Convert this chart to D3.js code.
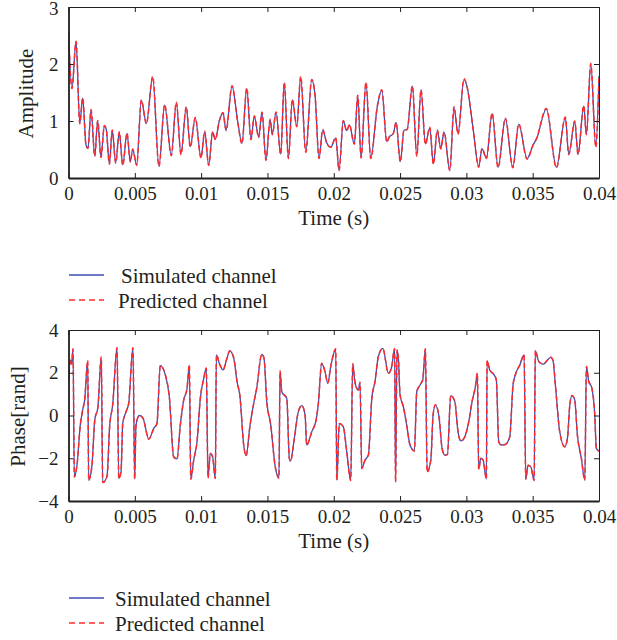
<!DOCTYPE html>
<html>
<head>
<meta charset="utf-8">
<script src="https://cdn.jsdelivr.net/npm/d3@7"></script>
<style>
  body { margin: 0; background: #fff; }
  svg { display: block; font-family: "Liberation Serif", "Times New Roman", serif; }
  .axis text { font-family: "Liberation Serif", "Times New Roman", serif; font-size: 19px; fill: #231f20; }
  .axis line, .axis path { stroke: #231f20; }
</style>
</head>
<body>
<div id="chart"></div>
<script>
var width = 617,
    height = 640;

// x axis (shared)
var xTicks = [0, 0.005, 0.01, 0.015, 0.02, 0.025, 0.03, 0.035, 0.04];
var xTickLabels = ["0", "0.005", "0.01", "0.015", "0.02", "0.025", "0.03", "0.035", "0.04"];

// amplitude panel
var ampTicks = [0, 1, 2, 3];
var ampTickLabels = ["0", "1", "2", "3"];
var ampTime = [0, 0.00026, 0.00057, 0.00085, 0.00107, 0.00132, 0.00147, 0.0017, 0.00198, 0.0022,
  0.00245, 0.0027, 0.00285, 0.00308, 0.0033, 0.00356, 0.00383, 0.00409, 0.00441, 0.00466,
  0.00484, 0.00514, 0.00549, 0.00587, 0.00635, 0.00682, 0.00725, 0.00775, 0.00813, 0.00848,
  0.00888, 0.00918, 0.00956, 0.00999, 0.01027, 0.01057, 0.01087, 0.01107, 0.01137, 0.01165,
  0.01188, 0.01233, 0.01276, 0.01308, 0.01344, 0.01376, 0.01401, 0.01434, 0.01459, 0.01489,
  0.0152, 0.01537, 0.01565, 0.016, 0.01627, 0.01658, 0.01688, 0.01721, 0.01751, 0.01789,
  0.01834, 0.01859, 0.01889, 0.01917, 0.01947, 0.01977, 0.02015, 0.0204, 0.02072, 0.02098,
  0.02118, 0.02155, 0.02181, 0.02206, 0.02243, 0.02279, 0.02329, 0.02362, 0.024, 0.02419,
  0.02449, 0.0247, 0.02502, 0.0253, 0.02553, 0.02593, 0.02626, 0.02658, 0.02691, 0.02724,
  0.02751, 0.02781, 0.02807, 0.02832, 0.02875, 0.02907, 0.02937, 0.02982, 0.03007, 0.0305,
  0.03093, 0.03118, 0.03151, 0.03194, 0.03239, 0.03294, 0.0335, 0.03395, 0.03458, 0.03503,
  0.03528, 0.03603, 0.03679, 0.03746, 0.03772, 0.03817, 0.03842, 0.03885, 0.03905, 0.03938,
  0.03976, 0.04];
var ampSimulated = [2.57, 1.58, 2.39, 0.96, 1.40, 0.58, 0.52, 1.19, 0.39, 1.00,
  0.37, 0.91, 0.85, 0.25, 0.83, 0.27, 0.80, 0.23, 0.78, 0.29,
  0.50, 0.23, 1.36, 0.96, 1.77, 0.21, 1.28, 0.40, 1.32, 0.42,
  1.24, 0.55, 1.05, 0.36, 0.81, 0.23, 0.80, 0.68, 1.00, 1.14,
  0.84, 1.61, 0.99, 0.61, 1.57, 0.68, 1.08, 0.72, 1.15, 0.32,
  1.02, 0.77, 1.15, 0.42, 1.67, 0.35, 1.37, 0.91, 1.77, 0.46,
  1.72, 1.45, 0.35, 0.84, 0.62, 0.54, 0.70, 0.14, 1.00, 0.83,
  0.93, 0.60, 1.44, 0.36, 1.67, 0.35, 1.26, 1.54, 0.64, 0.72,
  0.78, 0.97, 0.29, 0.84, 0.85, 1.61, 0.39, 1.54, 0.60, 0.88,
  0.25, 0.83, 0.52, 0.80, 0.14, 1.24, 0.78, 1.73, 1.58, 0.88,
  0.20, 0.51, 0.35, 1.13, 0.19, 1.04, 0.19, 0.94, 0.34, 0.58,
  0.68, 1.21, 0.19, 1.06, 0.42, 0.99, 0.42, 1.26, 0.77, 2.00,
  0.55, 1.79];
var ampPredicted = [2.58, 1.57, 2.40, 0.95, 1.41, 0.57, 0.52, 1.20, 0.38, 1.01,
  0.36, 0.92, 0.85, 0.24, 0.84, 0.26, 0.81, 0.22, 0.79, 0.28,
  0.51, 0.22, 1.37, 0.95, 1.78, 0.20, 1.29, 0.39, 1.33, 0.41,
  1.25, 0.54, 1.06, 0.35, 0.82, 0.22, 0.81, 0.67, 1.00, 1.15,
  0.83, 1.62, 0.98, 0.60, 1.58, 0.67, 1.09, 0.71, 1.16, 0.31,
  1.03, 0.76, 1.16, 0.41, 1.68, 0.34, 1.38, 0.90, 1.78, 0.45,
  1.73, 1.45, 0.34, 0.85, 0.61, 0.54, 0.71, 0.13, 1.01, 0.82,
  0.94, 0.59, 1.45, 0.35, 1.68, 0.34, 1.27, 1.55, 0.63, 0.72,
  0.78, 0.98, 0.28, 0.85, 0.85, 1.62, 0.38, 1.55, 0.59, 0.89,
  0.24, 0.84, 0.51, 0.81, 0.13, 1.25, 0.77, 1.74, 1.58, 0.87,
  0.19, 0.52, 0.34, 1.14, 0.18, 1.05, 0.18, 0.95, 0.33, 0.58,
  0.69, 1.22, 0.18, 1.07, 0.41, 1.00, 0.41, 1.27, 0.76, 2.01,
  0.54, 1.80];

// phase panel
var phaseTicks = [-4, -2, 0, 2, 4];
var phaseTickLabels = ["\u22124", "\u22122", "0", "2", "4"];
var phaseTime = [0, 0.00015, 0.00023, 0.00034, 0.00044, 0.00064, 0.00089, 0.00107, 0.00122, 0.00145,
  0.00152, 0.00177, 0.00198, 0.00222, 0.00247, 0.00258, 0.0029, 0.00311, 0.00333, 0.00366,
  0.00379, 0.00396, 0.00409, 0.00434, 0.00454, 0.00486, 0.00499, 0.00509, 0.00534, 0.00562,
  0.00605, 0.00643, 0.00667, 0.00692, 0.0073, 0.0076, 0.00793, 0.00818, 0.00843, 0.00869,
  0.00894, 0.00911, 0.00922, 0.00944, 0.00969, 0.00994, 0.0102, 0.01039, 0.01052, 0.01069,
  0.01087, 0.01107, 0.01115, 0.01137, 0.01165, 0.01195, 0.01216, 0.01246, 0.01271, 0.01293,
  0.01321, 0.01339, 0.01369, 0.01394, 0.01419, 0.01457, 0.01474, 0.01495, 0.01525, 0.01557,
  0.01587, 0.01595, 0.01608, 0.01646, 0.01665, 0.01674, 0.01701, 0.01733, 0.01759, 0.01784,
  0.01796, 0.01834, 0.01867, 0.01884, 0.01909, 0.01934, 0.01955, 0.01977, 0.02015, 0.02023,
  0.02042, 0.02072, 0.02098, 0.02128, 0.02143, 0.02161, 0.02186, 0.02198, 0.02211, 0.02236,
  0.02261, 0.02287, 0.02311, 0.02336, 0.0237, 0.02412, 0.02437, 0.02459, 0.02466, 0.02477,
  0.02487, 0.025, 0.02525, 0.0255, 0.02575, 0.02608, 0.02626, 0.02651, 0.02671, 0.02691,
  0.02704, 0.02732, 0.02749, 0.02766, 0.02792, 0.02817, 0.02837, 0.02857, 0.02882, 0.02913,
  0.02937, 0.02958, 0.02988, 0.03018, 0.03043, 0.03068, 0.03083, 0.03093, 0.03109, 0.03126,
  0.03151, 0.03156, 0.03176, 0.03209, 0.03226, 0.03244, 0.03264, 0.03294, 0.03327, 0.03352,
  0.03373, 0.03403, 0.03435, 0.03448, 0.03465, 0.03486, 0.03511, 0.0352, 0.03546, 0.03578,
  0.03637, 0.03654, 0.03671, 0.03704, 0.03742, 0.03762, 0.0378, 0.03797, 0.03817, 0.03837,
  0.03867, 0.03893, 0.03905, 0.03923, 0.03943, 0.03968, 0.0398, 0.04];
var phaseSimulated = [1.60, 2.60, 2.40, 3.10, -2.86, -2.32, -0.44, 0.26, 0.73, 2.55,
  -3.02, -2.32, -0.21, 0.41, 2.72, -3.13, -2.86, -0.44, 0.49, 3.17,
  -2.94, -2.63, -0.37, 0.18, 0.57, 3.17, -2.97, -0.44, 0.00, -0.13,
  -1.10, -0.60, -0.37, 2.33, 1.90, 0.88, -1.93, -2.03, -0.44, 0.73,
  1.27, 2.36, -2.97, -2.08, -1.23, 0.80, 1.74, 2.21, -2.91, -1.77,
  -1.93, -2.94, 2.83, 2.44, 2.13, 2.68, 3.02, 2.68, 1.58, 0.88,
  -1.38, -1.88, -0.44, 0.49, 1.27, 2.86, 2.68, 0.65, -0.44, -2.32,
  -2.91, 2.08, 1.11, 0.80, -2.00, -2.13, -1.15, 0.18, 0.46, 0.02,
  -1.38, -0.76, -0.21, 0.57, 2.44, 2.05, 1.51, 2.28, 3.11, -3.02,
  -0.37, -0.52, -1.69, -3.02, 2.40, 1.51, 1.19, 1.55, -2.47, -2.08,
  -1.85, 0.80, 1.58, 2.75, 3.14, 1.97, 2.28, 3.14, -3.10, 3.05,
  2.70, 0.96, 0.41, -0.44, -1.38, -1.65, 1.11, 1.43, 1.66, 3.11,
  -2.63, -2.08, 0.02, 0.49, 0.02, -1.54, -1.85, -1.82, 0.93, 0.65,
  -0.76, -1.19, -0.99, -0.29, 0.65, 1.35, 1.97, -2.50, -2.00, -2.08,
  -2.97, 2.55, 2.13, 1.90, 1.66, -1.23, -1.38, -1.35, -0.99, 1.43,
  1.97, 2.36, 2.83, -2.97, -2.32, -2.40, -3.02, 3.02, 2.52, 2.40,
  2.72, 2.55, 1.43, -0.76, -1.46, -1.07, 0.49, 0.93, 0.73, -0.91,
  -2.00, -3.02, 2.28, 1.58, 1.35, 0.02, -1.54, -1.66];
var phasePredicted = [1.62, 2.62, 2.40, 3.12, -2.88, -2.32, -0.45, 0.26, 0.74, 2.57,
  -3.04, -2.33, -0.22, 0.41, 2.74, -3.14, -2.87, -0.45, 0.49, 3.17,
  -2.95, -2.64, -0.38, 0.18, 0.58, 3.17, -2.98, -0.45, 0.00, -0.13,
  -1.11, -0.61, -0.37, 2.34, 1.91, 0.88, -1.94, -2.04, -0.45, 0.74,
  1.28, 2.38, -2.98, -2.09, -1.24, 0.81, 1.75, 2.22, -2.93, -1.78,
  -1.94, -2.95, 2.84, 2.45, 2.13, 2.69, 3.03, 2.69, 1.59, 0.88,
  -1.39, -1.89, -0.45, 0.49, 1.28, 2.87, 2.69, 0.66, -0.45, -2.33,
  -2.93, 2.10, 1.12, 0.81, -2.01, -2.14, -1.16, 0.18, 0.46, 0.02,
  -1.39, -0.77, -0.22, 0.58, 2.45, 2.06, 1.52, 2.29, 3.12, -3.04,
  -0.38, -0.53, -1.70, -3.04, 2.42, 1.52, 1.20, 1.56, -2.48, -2.09,
  -1.86, 0.81, 1.59, 2.76, 3.14, 1.98, 2.29, 3.14, -3.12, 3.06,
  2.71, 0.97, 0.41, -0.45, -1.39, -1.66, 1.12, 1.44, 1.67, 3.12,
  -2.65, -2.09, 0.02, 0.50, 0.02, -1.55, -1.86, -1.83, 0.94, 0.66,
  -0.77, -1.20, -1.00, -0.30, 0.66, 1.36, 1.98, -2.52, -2.01, -2.09,
  -2.98, 2.57, 2.14, 1.91, 1.67, -1.24, -1.39, -1.36, -1.00, 1.44,
  1.98, 2.37, 2.84, -2.98, -2.33, -2.41, -3.04, 3.04, 2.53, 2.41,
  2.73, 2.56, 1.44, -0.77, -1.47, -1.08, 0.50, 0.94, 0.74, -0.92,
  -2.01, -3.04, 2.30, 1.59, 1.36, 0.02, -1.55, -1.67];

var legendLabels = ["Simulated channel", "Predicted channel"];

var blue = "#3c4db4",
    red = "#ff2b2b",
    ink = "#231f20";

var svg = d3.select("#chart").append("svg")
    .attr("width", width)
    .attr("height", height);

var x = d3.scaleLinear().domain([0, 0.04]).range([68.5, 599]);

function drawPanel(cfg) {
    var y = d3.scaleLinear().domain(cfg.domain).range([cfg.bottom, cfg.top]);
    var g = svg.append("g");

    var clipId = "clip" + cfg.id;
    svg.append("clipPath").attr("id", clipId)
      .append("rect")
        .attr("x", x.range()[0]).attr("y", cfg.top)
        .attr("width", x.range()[1] - x.range()[0])
        .attr("height", cfg.bottom - cfg.top);

    var line = d3.line()
        .x(function(d) { return x(d[0]); })
        .y(function(d) { return y(d[1]); })
        .curve(d3.curveMonotoneX);

    var plot = g.append("g").attr("clip-path", "url(#" + clipId + ")");
    plot.append("path")
        .datum(d3.zip(cfg.time, cfg.sim))
        .attr("d", line)
        .attr("fill", "none")
        .attr("stroke", blue)
        .attr("stroke-width", 1.3);
    plot.append("path")
        .datum(d3.zip(cfg.time, cfg.pred))
        .attr("d", line)
        .attr("fill", "none")
        .attr("stroke", red)
        .attr("stroke-width", 1.5)
        .attr("stroke-dasharray", "5,3");

    // axes, ticks pointing in
    g.append("g").attr("class", "axis")
        .attr("transform", "translate(0," + cfg.bottom + ")")
        .call(d3.axisBottom(x).tickValues(xTicks)
            .tickFormat(function(d, i) { return xTickLabels[i]; })
            .tickSizeInner(-5).tickSizeOuter(0).tickPadding(9))
        .select(".domain").attr("stroke-width", 1.8);
    g.append("g").attr("class", "axis")
        .attr("transform", "translate(0," + cfg.top + ")")
        .call(d3.axisTop(x).tickValues(xTicks).tickFormat("")
            .tickSizeInner(-5).tickSizeOuter(0))
        .select(".domain").attr("stroke-width", 1);
    var yAxis = g.append("g").attr("class", "axis")
        .attr("transform", "translate(" + x.range()[0] + ",0)")
        .call(d3.axisLeft(y).tickValues(cfg.ticks)
            .tickFormat(function(d, i) { return cfg.tickLabels[i]; })
            .tickSizeInner(-5).tickSizeOuter(0).tickPadding(10));
    yAxis.select(".domain").attr("stroke-width", 1.8);
    // keep the topmost label inside the page
    yAxis.selectAll(".tick text")
        .filter(function(d) { return y(d) < 10; })
        .attr("dy", "0.4em");
    g.append("g").attr("class", "axis")
        .attr("transform", "translate(" + x.range()[1] + ",0)")
        .call(d3.axisRight(y).tickValues(cfg.ticks).tickFormat("")
            .tickSizeInner(-5).tickSizeOuter(0))
        .select(".domain").attr("stroke-width", 1);

    g.append("text")
        .attr("x", (x.range()[0] + x.range()[1]) / 2)
        .attr("y", cfg.bottom + 47)
        .attr("text-anchor", "middle")
        .attr("fill", ink)
        .style("font-size", "21px")
        .text("Time (s)");

    g.append("text")
        .attr("transform", "translate(" + cfg.labelX + "," + ((cfg.top + cfg.bottom) / 2 + 1) + ") rotate(-90)")
        .attr("text-anchor", "middle")
        .attr("fill", ink)
        .style("font-size", "21px")
        .text(cfg.label);

    // legend
    var leg = g.append("g");
    legendLabels.forEach(function(lbl, i) {
        var ly = cfg.legendY + i * 25;
        leg.append("line")
            .attr("x1", 69).attr("x2", 104)
            .attr("y1", ly).attr("y2", ly)
            .attr("stroke", i === 0 ? blue : red)
            .attr("stroke-width", 1.4)
            .attr("stroke-dasharray", i === 0 ? null : "6,4");
        leg.append("text")
            .attr("x", cfg.legendTextX[i])
            .attr("y", ly + 8)
            .attr("fill", ink)
            .style("font-size", "21px")
            .text(lbl);
    });
}

drawPanel({
    id: "amp", top: 7, bottom: 178, domain: [0, 3],
    ticks: ampTicks, tickLabels: ampTickLabels,
    time: ampTime, sim: ampSimulated, pred: ampPredicted,
    label: "Amplitude", labelX: 33,
    legendY: 275, legendTextX: [121, 118]
});

drawPanel({
    id: "phase", top: 330, bottom: 501, domain: [-4, 4],
    ticks: phaseTicks, tickLabels: phaseTickLabels,
    time: phaseTime, sim: phaseSimulated, pred: phasePredicted,
    label: "Phase[rand]", labelX: 25,
    legendY: 598, legendTextX: [115, 115]
});
</script>
</body>
</html>
